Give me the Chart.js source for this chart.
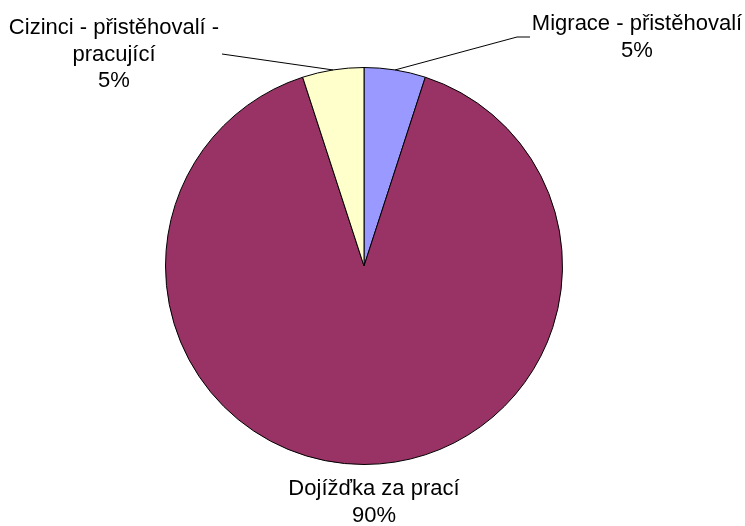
<!DOCTYPE html>
<html>
<head>
<meta charset="utf-8">
<script src="https://cdn.jsdelivr.net/npm/chart.js@4/dist/chart.umd.min.js"></script>
<style>
  html, body { margin: 0; padding: 0; background: #ffffff; }
  #wrap { width: 745px; height: 526px; position: relative; }
</style>
</head>
<body>
<div id="wrap"><canvas id="pie"></canvas></div>
<script>
// data
const labels = [["Migrace - přistěhovalí"], ["Dojížďka za prací"], ["Cizinci - přistěhovalí -", "pracující"]];
const values = [5, 90, 5];
const colors = ["#9999FF", "#993366", "#FFFFCC"];

// label text placement (centre x, first line y) and leader line bend
const labelPos = [
  { x: 637, y: 24, bend: [530, 37, 517, 37] },
  { x: 374, y: 489, bend: null },
  { x: 114, y: 28, bend: [222, 54, 222, 54] },
];

const labelPlugin = {
  id: "pieLabels",
  afterDraw(chart) {
    const ctx = chart.ctx;
    const meta = chart.getDatasetMeta(0);
    const total = values.reduce((a, b) => a + b, 0);
    ctx.save();
    ctx.font = "22px 'Liberation Sans', Arial, sans-serif";
    ctx.fillStyle = "#000";
    ctx.textAlign = "center";
    ctx.textBaseline = "middle";
    meta.data.forEach((arc, i) => {
      const p = labelPos[i];
      const lines = labels[i].concat([Math.round(values[i] / total * 100) + "%"]);
      lines.forEach((t, k) => ctx.fillText(t, p.x, p.y + k * 26.5));
      if (p.bend) {
        const { x, y, startAngle, endAngle, outerRadius } = arc.getProps(["x", "y", "startAngle", "endAngle", "outerRadius"], true);
        const mid = (startAngle + endAngle) / 2;
        const ex = x + Math.cos(mid) * outerRadius;
        const ey = y + Math.sin(mid) * outerRadius;
        ctx.strokeStyle = "#000";
        ctx.lineWidth = 1;
        ctx.beginPath();
        ctx.moveTo(p.bend[0], p.bend[1]);
        ctx.lineTo(p.bend[2], p.bend[3]);
        ctx.lineTo(ex, ey);
        ctx.stroke();
      }
    });
    ctx.restore();
  },
};

new Chart(document.getElementById("pie"), {
  type: "pie",
  data: {
    labels: labels.map((l) => l.join(" ")),
    datasets: [
      {
        data: values,
        backgroundColor: colors,
        borderColor: "#000000",
        borderWidth: 1,
      },
    ],
  },
  options: {
    responsive: true,
    maintainAspectRatio: false,
    animation: false,
    layout: { padding: { left: 165, right: 182, top: 67, bottom: 61 } },
    plugins: {
      legend: { display: false },
      tooltip: { enabled: false },
    },
  },
  plugins: [labelPlugin],
});
</script>
</body>
</html>
